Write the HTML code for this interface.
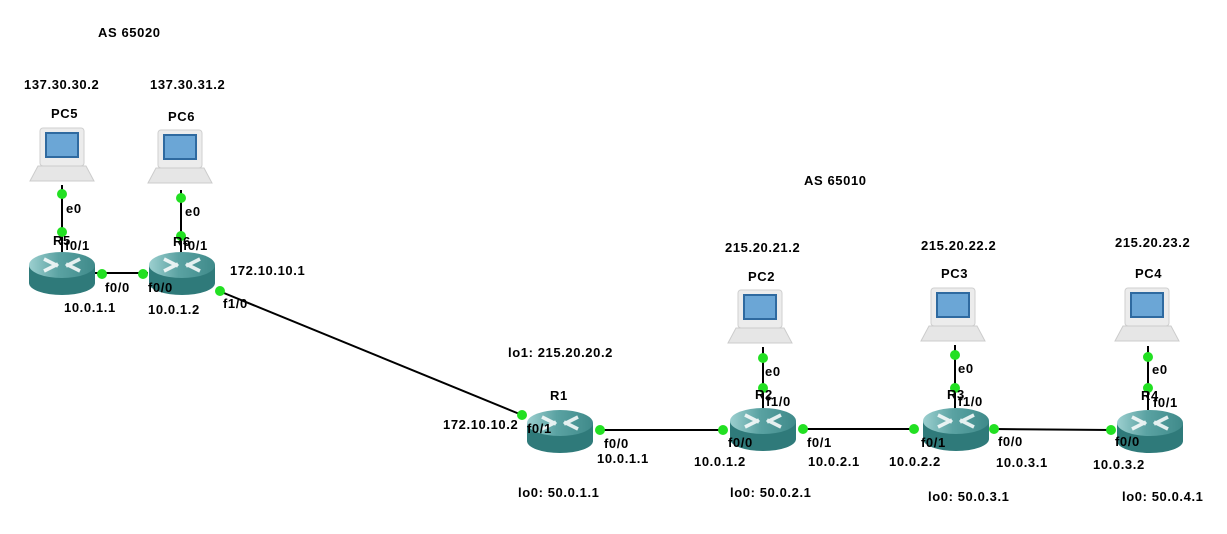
<!DOCTYPE html>
<html><head><meta charset="utf-8"><style>
body{margin:0;background:#fff;}
svg text{font-family:"Liberation Sans",sans-serif;font-weight:bold;font-size:13px;letter-spacing:0.6px;fill:#000;}
</style></head><body>
<svg width="1227" height="529" viewBox="0 0 1227 529" xmlns="http://www.w3.org/2000/svg">
<defs>
<linearGradient id="tg" x1="0" y1="0" x2="1" y2="0"><stop offset="0" stop-color="#9ccfcf"/><stop offset="0.45" stop-color="#5aa2a2"/><stop offset="1" stop-color="#3f8a8a"/></linearGradient>
<g id="rt">
<path d="M-33,-8 L-33,10 A33,12 0 0 0 33,10 L33,-8 Z" fill="#2f7a7a"/>
<ellipse cx="0" cy="-8" rx="33" ry="13" fill="url(#tg)"/>
<path d="M-18,-14 L-4,-7 M-18,-2 L-4,-9 M18,-14 L4,-7 M18,-2 L4,-9" stroke="#fff" stroke-width="3.5" opacity="0.85"/>
</g>
<g id="pc">
<rect x="-22" y="0" width="44" height="38" rx="3" fill="#ececec" stroke="#cfcfcf"/>
<rect x="-17" y="4" width="34" height="26" fill="#2f6aa0"/>
<rect x="-15" y="6" width="30" height="22" fill="#6ba6d6"/>
<path d="M-24,38 L24,38 L32,53 L-32,53 Z" fill="#e6e6e6" stroke="#cccccc"/>
</g>
</defs>
<g stroke="#000" stroke-width="2" fill="none">
<line x1="62" y1="185" x2="62" y2="262"/>
<line x1="181" y1="190" x2="181" y2="262"/>
<line x1="95" y1="273" x2="148" y2="273"/>
<line x1="219" y1="291" x2="522" y2="415"/>
<line x1="600" y1="430" x2="723" y2="430"/>
<line x1="802" y1="429" x2="915" y2="429"/>
<line x1="994" y1="429" x2="1111" y2="430"/>
<line x1="763" y1="347" x2="763" y2="410"/>
<line x1="955" y1="345" x2="955" y2="410"/>
<line x1="1148" y1="346" x2="1148" y2="410"/>
</g>
<use href="#pc" x="62" y="128"/>
<use href="#pc" x="180" y="130"/>
<use href="#pc" x="760" y="290"/>
<use href="#pc" x="953" y="288"/>
<use href="#pc" x="1147" y="288"/>
<use href="#rt" x="62" y="273"/>
<use href="#rt" x="182" y="273"/>
<use href="#rt" x="560" y="431"/>
<use href="#rt" x="763" y="429"/>
<use href="#rt" x="956" y="429"/>
<use href="#rt" x="1150" y="431"/>
<g fill="#22e022">
<circle cx="62" cy="194" r="5"/><circle cx="62" cy="232" r="5"/>
<circle cx="181" cy="198" r="5"/><circle cx="181" cy="236" r="5"/>
<circle cx="102" cy="274" r="5"/><circle cx="143" cy="274" r="5"/>
<circle cx="220" cy="291" r="5"/><circle cx="522" cy="415" r="5"/>
<circle cx="600" cy="430" r="5"/><circle cx="723" cy="430" r="5"/>
<circle cx="803" cy="429" r="5"/><circle cx="914" cy="429" r="5"/>
<circle cx="994" cy="429" r="5"/><circle cx="1111" cy="430" r="5"/>
<circle cx="763" cy="358" r="5"/><circle cx="763" cy="388" r="5"/>
<circle cx="955" cy="355" r="5"/><circle cx="955" cy="388" r="5"/>
<circle cx="1148" cy="357" r="5"/><circle cx="1148" cy="388" r="5"/>
</g>
<text x="98" y="37">AS 65020</text>
<text x="804" y="185">AS 65010</text>
<text x="24" y="89">137.30.30.2</text>
<text x="150" y="89">137.30.31.2</text>
<text x="51" y="118">PC5</text>
<text x="168" y="121">PC6</text>
<text x="66" y="213">e0</text>
<text x="185" y="216">e0</text>
<text x="53" y="245">R5</text>
<text x="65" y="250">f0/1</text>
<text x="173" y="246">R6</text>
<text x="183" y="250">f0/1</text>
<text x="105" y="292">f0/0</text>
<text x="148" y="292">f0/0</text>
<text x="64" y="312">10.0.1.1</text>
<text x="148" y="314">10.0.1.2</text>
<text x="230" y="275">172.10.10.1</text>
<text x="223" y="308">f1/0</text>
<text x="725" y="252">215.20.21.2</text>
<text x="921" y="250">215.20.22.2</text>
<text x="1115" y="247">215.20.23.2</text>
<text x="748" y="281">PC2</text>
<text x="941" y="278">PC3</text>
<text x="1135" y="278">PC4</text>
<text x="765" y="376">e0</text>
<text x="958" y="373">e0</text>
<text x="1152" y="374">e0</text>
<text x="508" y="357">lo1: 215.20.20.2</text>
<text x="550" y="400">R1</text>
<text x="755" y="399">R2</text>
<text x="766" y="406">f1/0</text>
<text x="947" y="399">R3</text>
<text x="958" y="406">f1/0</text>
<text x="1141" y="400">R4</text>
<text x="1153" y="407">f0/1</text>
<text x="443" y="429">172.10.10.2</text>
<text x="527" y="433">f0/1</text>
<text x="604" y="448">f0/0</text>
<text x="597" y="463">10.0.1.1</text>
<text x="728" y="447">f0/0</text>
<text x="694" y="466">10.0.1.2</text>
<text x="807" y="447">f0/1</text>
<text x="808" y="466">10.0.2.1</text>
<text x="921" y="447">f0/1</text>
<text x="889" y="466">10.0.2.2</text>
<text x="998" y="446">f0/0</text>
<text x="996" y="467">10.0.3.1</text>
<text x="1115" y="446">f0/0</text>
<text x="1093" y="469">10.0.3.2</text>
<text x="518" y="497">lo0: 50.0.1.1</text>
<text x="730" y="497">lo0: 50.0.2.1</text>
<text x="928" y="501">lo0: 50.0.3.1</text>
<text x="1122" y="501">lo0: 50.0.4.1</text>
</svg>
</body></html>
